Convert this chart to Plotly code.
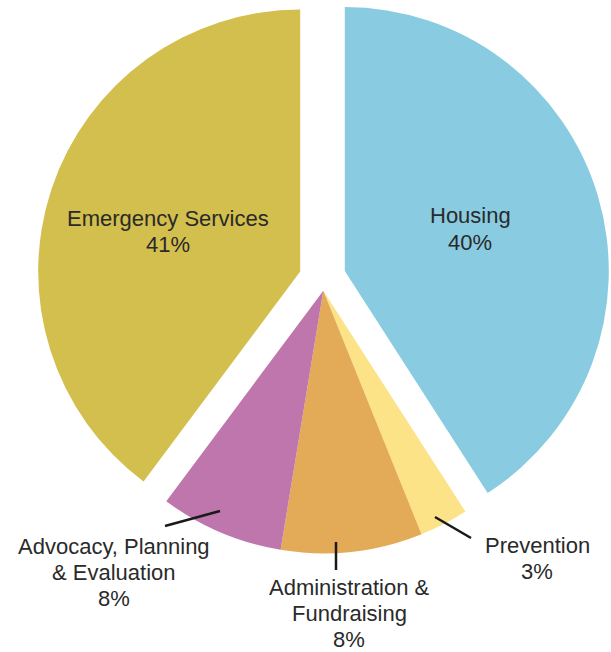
import plotly.graph_objects as go

# ---- data -------------------------------------------------------------
categories = ["Housing", "Prevention", "Administration & Fundraising",
              "Advocacy, Planning & Evaluation", "Emergency Services"]
# slice sizes as drawn (angles, in % of the circle)
shares = [40.9, 3.0, 8.7, 7.6, 39.8]
# percentages printed on the chart
pct_labels = ["40%", "3%", "8%", "8%", "41%"]
# label lines as printed
label_lines = [
    ["Housing"],
    ["Prevention"],
    ["Administration &", "Fundraising"],
    ["Advocacy, Planning", "& Evaluation"],
    ["Emergency Services"],
]
colors = ["#89CBE1", "#FDE387", "#E3AA58", "#BE76AC", "#D2BF4D"]

# ---- layout helpers ---------------------------------------------------
W, H = 611, 652
TXT = "#2a2a2a"
FONT = "Liberation Sans, Arial, Helvetica, sans-serif"


def px(x):
    return x / W


def py(y):
    return 1 - y / H


def dom(cx, cy, r):
    return dict(x=[(cx - r) / W, (cx + r) / W], y=[1 - (cy + r) / H, 1 - (cy - r) / H])


def pie(show, cx, cy, r):
    cols = [c if i in show else "rgba(0,0,0,0)" for i, c in enumerate(colors)]
    return go.Pie(
        labels=categories, values=shares, sort=False, direction="clockwise",
        rotation=0, marker=dict(colors=cols, line=dict(width=0)),
        textinfo="none", domain=dom(cx, cy, r), showlegend=False,
        hovertemplate="%{label}<extra></extra>",
    )


fig = go.Figure()
fig.add_trace(pie({1, 2, 3}, 323.3, 290.7, 262.6))   # small slices, not pulled
fig.add_trace(pie({0}, 344.8, 271.0, 264.0))         # Housing, pulled out
fig.add_trace(pie({4}, 300.2, 271.5, 262.0))         # Emergency Services, pulled out

# label placement (centre x, first-line centre y) per category
label_pos = [(470, 216), (537, 545), (349, 587), (114, 546), (168, 218)]
LINE = 26
ann = []
for i, (lines, pct) in enumerate(zip(label_lines, pct_labels)):
    x0, y0 = label_pos[i]
    for k, t in enumerate(lines + [pct]):
        ann.append(dict(
            text=t, x=px(x0), y=py(y0 + k * LINE), xref="paper", yref="paper",
            xanchor="center", yanchor="middle", showarrow=False,
            font=dict(family=FONT, size=22, color=TXT),
        ))

# leader lines for outside labels
leaders = [((435, 517), (471, 538)), ((336, 542), (336, 570)), ((220, 511), (165, 526))]
shapes = [dict(type="line", xref="paper", yref="paper",
               x0=px(a[0]), y0=py(a[1]), x1=px(b[0]), y1=py(b[1]),
               line=dict(color="#1a1a1a", width=2.5)) for a, b in leaders]

fig.update_layout(
    width=W, height=H, margin=dict(l=0, r=0, t=0, b=0),
    paper_bgcolor="white", plot_bgcolor="white",
    annotations=ann, shapes=shapes,
)

fig.write_html("out.html")
